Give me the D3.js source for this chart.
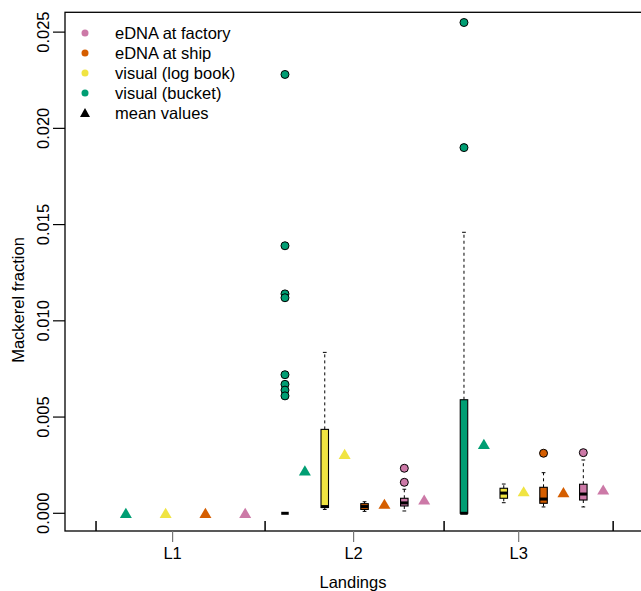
<!DOCTYPE html>
<html><head><meta charset="utf-8">
<script src="https://cdn.jsdelivr.net/npm/d3@7"></script>
<style>body{margin:0;background:#fff}svg{display:block;font-family:"Liberation Sans",Arial,sans-serif}</style>
</head><body><svg id="c" width="641" height="591"></svg>
<script>
// ---- data ----
const landings = ["L1", "L2", "L3"];
const methods = ["visual (bucket)", "visual (log book)", "eDNA at ship", "eDNA at factory"];
const methodColors = ["#009E73", "#F0E442", "#D55E00", "#CC79A7"];
// five-number summaries [lower whisker, q1, median, q3, upper whisker] per landing (null = no box)
const bucketStats   = [null, [0, 0, 0, 0, 0], [0, 0, 0, 0.0059, 0.0146]];
const logbookStats  = [null, [0.0002, 0.0003, 0.00035, 0.00436, 0.00836], [0.00055, 0.00078, 0.00105, 0.0013, 0.00152]];
const shipStats     = [null, [0.0001, 0.0002, 0.00035, 0.0005, 0.0006], [0.00033, 0.00052, 0.00074, 0.00135, 0.00211]];
const factoryStats  = [null, [0.00012, 0.00038, 0.00054, 0.00078, 0.00125], [0.00033, 0.00069, 0.001, 0.00151, 0.00277]];
// outliers
const bucketOut  = [[], [0.0228, 0.0139, 0.0114, 0.0112, 0.0072, 0.0067, 0.0064, 0.0061], [0.0255, 0.0190]];
const logbookOut = [[], [], []];
const shipOut    = [[], [], [0.00312]];
const factoryOut = [[], [0.00161, 0.00234], [0.00315]];
// mean values
const bucketMean  = [0, 0.0022, 0.00358];
const logbookMean = [0, 0.00306, 0.00112];
const shipMean    = [0, 0.00047, 0.00107];
const factoryMean = [0, 0.00069, 0.00121];
const yTicks = [0, 0.005, 0.010, 0.015, 0.020, 0.025];
const legendLabels = ["eDNA at factory", "eDNA at ship", "visual (log book)", "visual (bucket)", "mean values"];
const legendColors = ["#CC79A7", "#D55E00", "#F0E442", "#009E73", "#000000"];

const stats = [bucketStats, logbookStats, shipStats, factoryStats];
const outs = [bucketOut, logbookOut, shipOut, factoryOut];
const means = [bucketMean, logbookMean, shipMean, factoryMean];

// ---- layout ----
const L = 65, R = 641, T = 12.3, B = 531;
const FS = 16.5;
const svg = d3.select("#c");
const x = d3.scaleLinear().domain([-1.06, 27.9]).range([L, R]);
const y = d3.scaleLinear().domain([-0.00092, 0.02603]).range([B, T]);
const slot = (g, m) => g * 9 + 1 + 2 * m;

// box frame
svg.append("rect").attr("x", L).attr("y", T).attr("width", R + 20 - L).attr("height", B - T)
  .attr("fill", "none").attr("stroke", "#000").attr("stroke-width", 1.3);

// y axis
const ya = svg.append("g");
yTicks.forEach(v => {
  ya.append("line").attr("x1", L - 12).attr("x2", L).attr("y1", y(v)).attr("y2", y(v)).attr("stroke", "#000").attr("stroke-width", 1.2);
  ya.append("text").attr("transform", `translate(${L - 16},${y(v)}) rotate(-90)`)
    .attr("text-anchor", "middle").attr("font-size", FS).text(d3.format(".3f")(v));
});
svg.append("text").attr("transform", `translate(24,300) rotate(-90)`)
  .attr("text-anchor", "middle").attr("font-size", FS).text("Mackerel fraction");

// x axis: separators and labels
const seps = [0.5, 9, 18, 26.5];
seps.forEach(s => svg.append("line").attr("x1", x(s)).attr("x2", x(s)).attr("y1", B - 10).attr("y2", B).attr("stroke", "#000").attr("stroke-width", 1.5));
const labelPos = [4.35, 13.45, 21.75];
landings.forEach((l, i) => {
  svg.append("line").attr("x1", x(labelPos[i])).attr("x2", x(labelPos[i])).attr("y1", B).attr("y2", B + 11).attr("stroke", "#777").attr("stroke-width", 1.2);
  svg.append("text").attr("x", x(labelPos[i])).attr("y", B + 28).attr("text-anchor", "middle").attr("font-size", FS).text(l);
});
svg.append("text").attr("x", (L + R) / 2).attr("y", 588).attr("text-anchor", "middle").attr("font-size", FS).text("Landings");

// boxes
const bw = 7.5;
landings.forEach((l, g) => {
  methods.forEach((m, mi) => {
    const st = stats[mi][g];
    const cx = x(slot(g, mi));
    if (st) {
      const [lo, q1, med, q3, hi] = st;
      const gg = svg.append("g");
      if (hi > q3) {
        gg.append("line").attr("x1", cx).attr("x2", cx).attr("y1", y(q3)).attr("y2", y(hi)).attr("stroke", "#000").attr("stroke-dasharray", "3,3");
        gg.append("line").attr("x1", cx - bw / 4).attr("x2", cx + bw / 4).attr("y1", y(hi)).attr("y2", y(hi)).attr("stroke", "#000");
      }
      if (lo < q1) {
        gg.append("line").attr("x1", cx).attr("x2", cx).attr("y1", y(q1)).attr("y2", y(lo)).attr("stroke", "#000").attr("stroke-dasharray", "3,3");
        gg.append("line").attr("x1", cx - bw / 4).attr("x2", cx + bw / 4).attr("y1", y(lo)).attr("y2", y(lo)).attr("stroke", "#000");
      }
      gg.append("rect").attr("x", cx - bw / 2).attr("y", y(q3)).attr("width", bw).attr("height", Math.max(0, y(q1) - y(q3)))
        .attr("fill", methodColors[mi]).attr("stroke", "#000").attr("stroke-width", 1.1);
      gg.append("line").attr("x1", cx - bw / 2).attr("x2", cx + bw / 2).attr("y1", y(med)).attr("y2", y(med)).attr("stroke", "#000").attr("stroke-width", 3);
    }
    outs[mi][g].forEach(v => {
      svg.append("circle").attr("cx", cx).attr("cy", y(v)).attr("r", 4).attr("fill", methodColors[mi]).attr("stroke", "#000").attr("stroke-width", 1);
    });
    const tx = x(slot(g, mi) + 1), ty = y(means[mi][g]);
    svg.append("path").attr("d", `M${tx - 6},${ty + 4.6}L${tx + 6},${ty + 4.6}L${tx},${ty - 5.6}Z`).attr("fill", methodColors[mi]);
  });
});

// legend
legendLabels.forEach((lab, i) => {
  const ly = 33 + i * 20;
  if (i < 4) svg.append("circle").attr("cx", 85).attr("cy", ly).attr("r", 3.5).attr("fill", legendColors[i]);
  else svg.append("path").attr("d", `M${85 - 5},${ly + 4}L${85 + 5},${ly + 4}L85,${ly - 5}Z`).attr("fill", "#000");
  svg.append("text").attr("x", 115).attr("y", ly).attr("dy", "0.35em").attr("font-size", FS).text(lab);
});
</script></body></html>
